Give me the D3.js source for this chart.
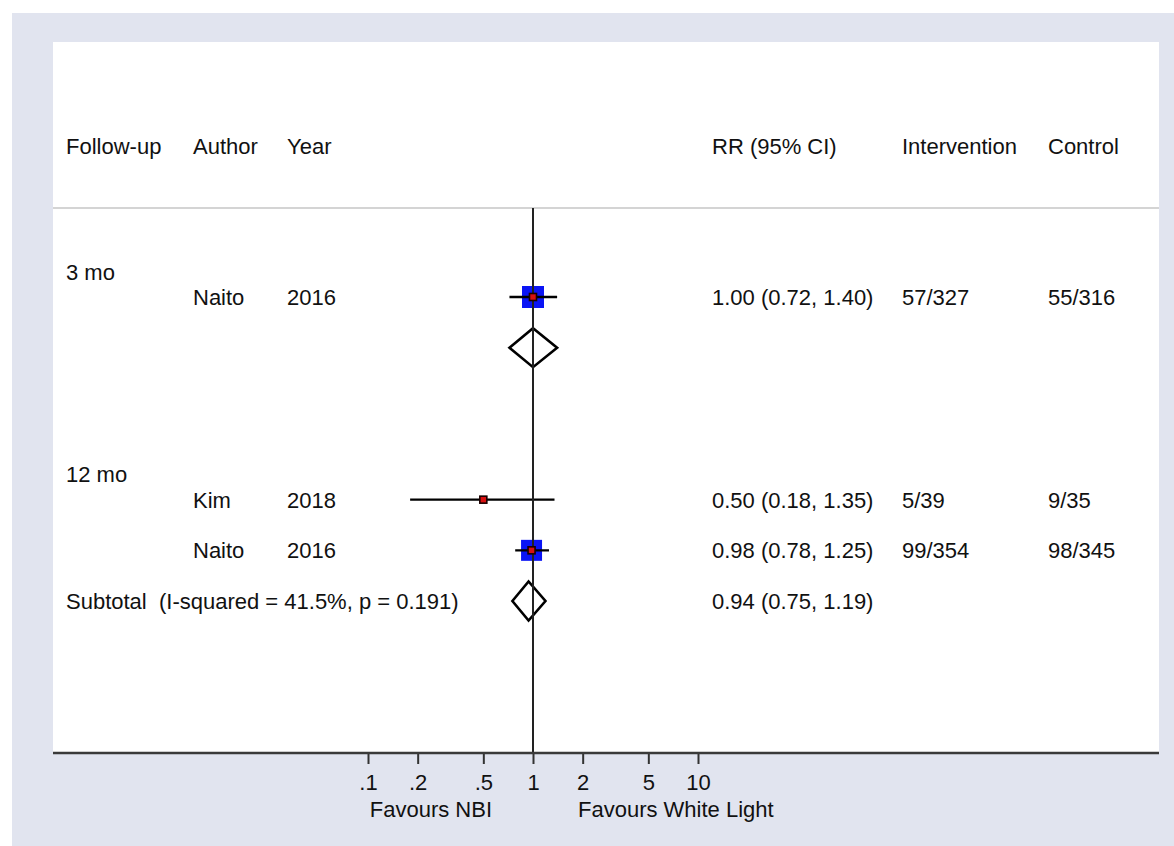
<!DOCTYPE html>
<html>
<head>
<meta charset="utf-8">
<script src="https://cdn.jsdelivr.net/npm/d3@7"></script>
<style>
  html, body { margin: 0; padding: 0; background: #ffffff; }
  svg { display: block; font-family: "Liberation Sans", Arial, Helvetica, sans-serif; }
  text { white-space: pre; }
</style>
</head>
<body>
<svg id="chart" width="1174" height="846"></svg>
<script>
// Column headings
const headers = ["Follow-up", "Author", "Year", "RR (95% CI)", "Intervention", "Control"];

// Subgroup headings and the row slot each sits on
const groupLabels = ["3 mo", "12 mo"];
const groupRows   = [-0.5, 3.5];

// Individual studies
const studyRow     = [0, 4, 5];
const studyAuthor  = ["Naito", "Kim", "Naito"];
const studyYear    = ["2016", "2018", "2016"];
const studyRR      = [1.00, 0.50, 0.98];
const studyLo      = [0.72, 0.18, 0.78];
const studyHi      = [1.40, 1.35, 1.25];
const studyWeight  = [100, 6, 91];
const studyInterv  = ["57/327", "5/39", "99/354"];
const studyControl = ["55/316", "9/35", "98/345"];

// Pooled (subtotal) estimates
const poolRow   = [1, 6];
const poolLabel = ["", "Subtotal  (I-squared = 41.5%, p = 0.191)"];
const poolRR    = [1.00, 0.94];
const poolLo    = [0.72, 0.75];
const poolHi    = [1.40, 1.19];

// Axis ticks
const tickValues = [0.1, 0.2, 0.5, 1, 2, 5, 10];
const tickLabels = [".1", ".2", ".5", "1", "2", "5", "10"];
const sideLabels = ["Favours NBI", "Favours White Light"];

const fmt = v => v.toFixed(2);
const ciText = (r, l, h) => `${fmt(r)} (${fmt(l)}, ${fmt(h)})`;

const svg = d3.select("#chart");
const W = 1174, H = 846;
const fontSize = 22;
const textDy = 8;

// Outer panel and inner plot region
svg.append("rect").attr("x", 12).attr("y", 13).attr("width", W - 12).attr("height", H - 13)
  .attr("fill", "#e1e4ef");
const plot = { left: 53, top: 42, right: 1159, bottom: 753 };
svg.append("rect").attr("x", plot.left).attr("y", plot.top)
  .attr("width", plot.right - plot.left).attr("height", plot.bottom - plot.top)
  .attr("fill", "#ffffff");

// Scales: log effect scale horizontally, row slots vertically
const x = d3.scaleLog().domain([0.1, 10]).range([368, 698]);
const y = d3.scaleLinear().domain([0, 6]).range([297, 601]);

const colX = [66, 193, 287, 712, 902, 1048];

// Header row
svg.append("g").selectAll("text").data(headers).join("text")
  .attr("x", (d, i) => colX[i]).attr("y", y(-3) + textDy + 1)
  .attr("font-size", fontSize).attr("fill", "#111").text(d => d);

// Separator below the headings
svg.append("line").attr("x1", plot.left).attr("x2", plot.right)
  .attr("y1", 208).attr("y2", 208)
  .attr("stroke", "#c6c6c6").attr("stroke-width", 1.5);

// Subgroup headings
svg.append("g").selectAll("text").data(groupLabels).join("text")
  .attr("x", colX[0]).attr("y", (d, i) => y(groupRows[i]) + textDy)
  .attr("font-size", fontSize).attr("fill", "#111").text(d => d);

// Study text columns
const studies = studyAuthor.map((a, i) => ({
  row: studyRow[i], author: a, year: studyYear[i], rr: studyRR[i],
  lo: studyLo[i], hi: studyHi[i], w: studyWeight[i],
  interv: studyInterv[i], control: studyControl[i]
}));
const textG = svg.append("g").attr("font-size", fontSize).attr("fill", "#111");
studies.forEach(s => {
  const cols = [[colX[1], s.author], [colX[2], s.year], [colX[3], ciText(s.rr, s.lo, s.hi)],
                [colX[4], s.interv], [colX[5], s.control]];
  cols.forEach(([cx, t]) => textG.append("text").attr("x", cx).attr("y", y(s.row) + textDy).text(t));
});

// Pooled text
const pools = poolRow.map((r, i) => ({ row: r, label: poolLabel[i], rr: poolRR[i], lo: poolLo[i], hi: poolHi[i] }));
pools.forEach(p => {
  if (p.label) textG.append("text").attr("x", colX[0]).attr("y", y(p.row) + textDy).text(p.label);
  if (p.row !== 1) textG.append("text").attr("x", colX[3]).attr("y", y(p.row) + textDy).text(ciText(p.rr, p.lo, p.hi));
});

// Pooled diamonds
const halfH = 19.5;
svg.append("g").selectAll("path").data(pools).join("path")
  .attr("d", p => `M${x(p.lo)},${y(p.row)} L${x(p.rr)},${y(p.row) - halfH} L${x(p.hi)},${y(p.row)} L${x(p.rr)},${y(p.row) + halfH} Z`)
  .attr("fill", "none").attr("stroke", "#000").attr("stroke-width", 2.6)
  .attr("stroke-linejoin", "miter");

// Weighted boxes
const maxSide = 22;
const side = d3.scaleSqrt().domain([0, 100]).range([0, maxSide]);
svg.append("g").selectAll("rect").data(studies).join("rect")
  .attr("x", s => x(s.rr) - side(s.w) / 2).attr("y", s => y(s.row) - side(s.w) / 2)
  .attr("width", s => side(s.w)).attr("height", s => side(s.w))
  .attr("fill", "#0a14f5");

// Confidence intervals
svg.append("g").selectAll("line").data(studies).join("line")
  .attr("x1", s => x(s.lo)).attr("x2", s => x(s.hi))
  .attr("y1", s => y(s.row)).attr("y2", s => y(s.row))
  .attr("stroke", "#000").attr("stroke-width", 2.4);

// Line of no effect
svg.append("line").attr("x1", x(1)).attr("x2", x(1))
  .attr("y1", 208).attr("y2", plot.bottom)
  .attr("stroke", "#222").attr("stroke-width", 2);

// Point estimates
svg.append("g").selectAll("rect").data(studies).join("rect")
  .attr("x", s => x(s.rr) - 3.5).attr("y", s => y(s.row) - 3.5)
  .attr("width", 7).attr("height", 7)
  .attr("fill", "#d81010").attr("stroke", "#1a0000").attr("stroke-width", 1.6);

// Bottom axis
const axis = d3.axisBottom(x).tickValues(tickValues)
  .tickFormat((d, i) => tickLabels[i]).tickSize(11).tickPadding(10);
const axG = svg.append("g").attr("transform", `translate(0,${plot.bottom})`).call(axis);
axG.select(".domain").remove();
axG.selectAll(".tick line").attr("stroke", "#333").attr("stroke-width", 2);
axG.selectAll(".tick text").attr("font-size", fontSize)
  .attr("font-family", "Liberation Sans, Arial, sans-serif").attr("fill", "#111");
svg.append("line").attr("x1", plot.left).attr("x2", plot.right)
  .attr("y1", plot.bottom).attr("y2", plot.bottom)
  .attr("stroke", "#3a3a3a").attr("stroke-width", 2.6);

// Direction labels
svg.append("text").attr("x", x(1) - 41).attr("y", 817).attr("text-anchor", "end")
  .attr("font-size", fontSize).attr("fill", "#111").text(sideLabels[0]);
svg.append("text").attr("x", x(1) + 45).attr("y", 817).attr("text-anchor", "start")
  .attr("font-size", fontSize).attr("fill", "#111").text(sideLabels[1]);
</script>
</body>
</html>
